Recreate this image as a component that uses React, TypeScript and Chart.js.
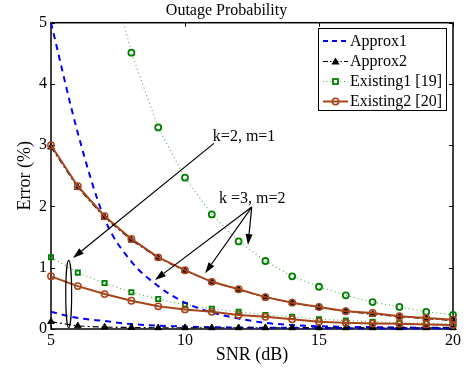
import React, { useEffect, useRef } from 'react';
import { Chart, registerables } from 'chart.js';

Chart.register(...registerables);

// ---------- data ----------
const snr = [5, 6, 7, 8, 9, 10, 11, 12, 13, 14, 15, 16, 17, 18, 19, 20];
const xTickValues = [5, 10, 15, 20];
const yTickValues = [0, 1, 2, 3, 4, 5];

// Approx1 (blue dashed)
const approx1K3 = [5.0, 3.2, 1.8, 1.1, 0.7, 0.43, 0.27, 0.17, 0.1, 0.065, 0.045, 0.035, 0.03, 0.025, 0.02, 0.02];
const approx1K2 = [0.28, 0.18, 0.13, 0.08, 0.055, 0.04, 0.03, 0.025, 0.02, 0.02, 0.015, 0.015, 0.01, 0.01, 0.01, 0.01];
// Approx2 (black triangles, dash-dot)
const approx2K3 = [2.97, 2.31, 1.82, 1.45, 1.16, 0.95, 0.77, 0.64, 0.52, 0.43, 0.35, 0.29, 0.24, 0.2, 0.17, 0.14];
const approx2K2 = [0.12, 0.05, 0.03, 0.025, 0.02, 0.02, 0.02, 0.02, 0.02, 0.02, 0.02, 0.02, 0.02, 0.02, 0.02, 0.02];
// Existing1 [19] (green dotted; circles k=3, squares k=2)
const existing1K3 = [null, null, 6.2, 4.51, 3.29, 2.47, 1.87, 1.43, 1.11, 0.86, 0.69, 0.55, 0.44, 0.36, 0.28, 0.23];
const existing1K2 = [1.17, 0.92, 0.75, 0.6, 0.49, 0.39, 0.33, 0.28, 0.23, 0.2, 0.16, 0.14, 0.12, 0.1, 0.095, 0.08];
// Existing2 [20] (brown solid, circles)
const existing2K3 = [3.0, 2.33, 1.84, 1.47, 1.17, 0.96, 0.77, 0.65, 0.52, 0.43, 0.36, 0.29, 0.26, 0.21, 0.18, 0.15];
const existing2K2 = [0.86, 0.7, 0.57, 0.46, 0.37, 0.32, 0.28, 0.23, 0.2, 0.16, 0.12, 0.1, 0.09, 0.085, 0.075, 0.065];

const legendLabels = ['Approx1', 'Approx2', 'Existing1 [19]', 'Existing2 [20]'];
const titleText = 'Outage Probability';
const xTitle = 'SNR (dB)';
const yTitle = 'Error (%)';
const note1 = 'k=2, m=1';
const note2 = 'k =3, m=2';

// annotation anchors in data coordinates
const note1Pos = { x: 11.04, y: 3.14 };
const note1Arrow = { from: { x: 11.08, y: 3.03 }, to: { x: 5.82, y: 1.16 } };
const ellipseDef = { x: 5.66, y: 0.57, rx: 0.11, ry: 0.55 };
const note2Pos = { x: 11.27, y: 2.13 };
const note2From = { x: 12.49, y: 1.99 };
const note2Tips = [
  { x: 8.88, y: 0.8 },
  { x: 10.75, y: 0.91 },
  { x: 12.35, y: 1.37 },
];

const SERIF = "'Liberation Serif', 'Times New Roman', serif";
const BLUE = '#0000ff';
const GREEN = '#008000';
const GREEN_LINE = '#4fae4f';
const BROWN = '#a8441a';

const pts = (arr: (number | null)[]) => snr.map((x, i) => ({ x, y: arr[i] }));

const CLIP = { left: 10, right: 10, top: 0, bottom: 10 };

function drawMarker(ctx: CanvasRenderingContext2D, kind: string, x: number, y: number) {
  ctx.save();
  ctx.setLineDash([]);
  if (kind === 'triangle') {
    ctx.fillStyle = '#000';
    ctx.beginPath();
    ctx.moveTo(x, y - 4);
    ctx.lineTo(x + 4, y + 3);
    ctx.lineTo(x - 4, y + 3);
    ctx.closePath();
    ctx.fill();
  } else if (kind === 'rect') {
    ctx.strokeStyle = GREEN;
    ctx.lineWidth = 1.8;
    ctx.strokeRect(x - 2.5, y - 2.5, 5, 5);
  } else if (kind === 'circle') {
    ctx.strokeStyle = BROWN;
    ctx.lineWidth = 1.5;
    ctx.beginPath();
    ctx.arc(x, y, 3.2, 0, Math.PI * 2);
    ctx.stroke();
  }
  ctx.restore();
}

function arrow(ctx: CanvasRenderingContext2D, x1: number, y1: number, x2: number, y2: number) {
  const ang = Math.atan2(y2 - y1, x2 - x1);
  const len = 11;
  const hw = 3.5;
  const bx = x2 - len * Math.cos(ang);
  const by = y2 - len * Math.sin(ang);
  ctx.beginPath();
  ctx.moveTo(x1, y1);
  ctx.lineTo(bx, by);
  ctx.stroke();
  ctx.beginPath();
  ctx.moveTo(x2, y2);
  ctx.lineTo(bx + hw * Math.sin(ang), by - hw * Math.cos(ang));
  ctx.lineTo(bx - hw * Math.sin(ang), by + hw * Math.cos(ang));
  ctx.closePath();
  ctx.fill();
}

const framePlugin = {
  id: 'frame',
  beforeDatasetsDraw(chart: any) {
    const { ctx, chartArea: a, scales } = chart;
    ctx.save();
    ctx.strokeStyle = '#000';
    ctx.lineWidth = 1.5;
    ctx.strokeRect(a.left, a.top, a.right - a.left, a.bottom - a.top);
    ctx.lineWidth = 1;
    const tl = 4;
    ctx.beginPath();
    xTickValues.forEach((v) => {
      const px = Math.round(scales.x.getPixelForValue(v)) + 0.5;
      ctx.moveTo(px, a.bottom);
      ctx.lineTo(px, a.bottom - tl);
      ctx.moveTo(px, a.top);
      ctx.lineTo(px, a.top + tl);
    });
    yTickValues.forEach((v) => {
      const py = Math.round(scales.y.getPixelForValue(v)) + 0.5;
      ctx.moveTo(a.left, py);
      ctx.lineTo(a.left + tl, py);
      ctx.moveTo(a.right, py);
      ctx.lineTo(a.right - tl, py);
    });
    ctx.stroke();
    ctx.restore();
  },
  afterDatasetsDraw(chart: any) {
    const { ctx, scales } = chart;
    const X = (v: number) => scales.x.getPixelForValue(v);
    const Y = (v: number) => scales.y.getPixelForValue(v);
    ctx.save();
    ctx.strokeStyle = '#000';
    ctx.fillStyle = '#000';
    ctx.lineWidth = 1.2;
    ctx.setLineDash([]);

    // annotations
    ctx.font = `16px ${SERIF}`;
    ctx.textAlign = 'left';
    ctx.textBaseline = 'middle';
    ctx.fillText(note1, X(note1Pos.x), Y(note1Pos.y));
    ctx.fillText(note2, X(note2Pos.x), Y(note2Pos.y));
    arrow(ctx, X(note1Arrow.from.x), Y(note1Arrow.from.y), X(note1Arrow.to.x), Y(note1Arrow.to.y));
    note2Tips.forEach((t) => arrow(ctx, X(note2From.x), Y(note2From.y), X(t.x), Y(t.y)));
    const cx = X(ellipseDef.x);
    const cy = Y(ellipseDef.y);
    const rx = Math.abs(X(ellipseDef.x + ellipseDef.rx) - cx);
    const ry = Math.abs(Y(ellipseDef.y + ellipseDef.ry) - cy);
    ctx.beginPath();
    ctx.ellipse(cx, cy, rx, ry, 0, 0, Math.PI * 2);
    ctx.stroke();

    // legend
    const bx = 318.5, by = 28.5, bw = 128, bh = 82;
    ctx.fillStyle = '#fff';
    ctx.fillRect(bx, by, bw, bh);
    ctx.strokeStyle = '#000';
    ctx.lineWidth = 1;
    ctx.strokeRect(bx, by, bw, bh);
    const rows = [41, 61.5, 81.5, 101.5];
    const styles = [
      { color: BLUE, dash: [5, 4], width: 2, marker: '' },
      { color: '#000', dash: [5, 2, 1.5, 2], width: 1.2, marker: 'triangle' },
      { color: GREEN_LINE, dash: [1, 2.5], width: 1.2, marker: 'rect' },
      { color: BROWN, dash: [], width: 2, marker: 'circle' },
    ];
    styles.forEach((s, i) => {
      const y = rows[i];
      ctx.save();
      ctx.strokeStyle = s.color;
      ctx.lineWidth = s.width;
      ctx.setLineDash(s.dash);
      ctx.beginPath();
      ctx.moveTo(323, y);
      ctx.lineTo(348, y);
      ctx.stroke();
      ctx.restore();
      if (s.marker) drawMarker(ctx, s.marker, 335.5, y);
      ctx.fillStyle = '#000';
      ctx.font = `16px ${SERIF}`;
      ctx.textAlign = 'left';
      ctx.textBaseline = 'middle';
      ctx.fillText(legendLabels[i], 350, y + 0.5);
    });
    ctx.restore();
  },
};

export default function App() {
  const ref = useRef<HTMLCanvasElement>(null);
  useEffect(() => {
    document.body.style.margin = '0';
    const canvas = ref.current;
    if (!canvas) return;
    const brownCommon = {
      borderColor: BROWN,
      borderWidth: 2,
      pointStyle: 'circle',
      pointRadius: 3.2,
      pointBorderWidth: 1.5,
      pointBorderColor: BROWN,
      pointBackgroundColor: 'rgba(0,0,0,0)',
      tension: 0,
      clip: CLIP,
    };
    const blackCommon = {
      borderColor: '#000',
      borderWidth: 1.2,
      borderDash: [6, 3, 2, 3],
      pointStyle: 'triangle',
      pointRadius: 3.8,
      pointBorderWidth: 1,
      pointBorderColor: '#000',
      pointBackgroundColor: '#000',
      tension: 0,
      clip: CLIP,
    };
    const blueCommon = {
      borderColor: BLUE,
      borderWidth: 2,
      borderDash: [6, 5],
      pointRadius: 0,
      cubicInterpolationMode: 'monotone',
      clip: CLIP,
    };
    const greenCommon = {
      borderColor: GREEN_LINE,
      borderWidth: 1.1,
      borderDash: [1, 3],
      pointBorderColor: GREEN,
      pointBackgroundColor: 'rgba(0,0,0,0)',
      pointBorderWidth: 1.8,
      tension: 0,
      clip: CLIP,
    };
    const chart = new Chart(canvas, {
      type: 'line',
      data: {
        datasets: [
          { label: legendLabels[3], data: pts(existing2K3), ...brownCommon },
          { label: legendLabels[3], data: pts(existing2K2), ...brownCommon },
          { label: legendLabels[1], data: pts(approx2K3), ...blackCommon },
          { label: legendLabels[1], data: pts(approx2K2), ...blackCommon },
          { label: legendLabels[0], data: pts(approx1K3), ...blueCommon },
          { label: legendLabels[0], data: pts(approx1K2), ...blueCommon },
          { label: legendLabels[2], data: pts(existing1K3), ...greenCommon, pointStyle: 'circle', pointRadius: 3 },
          { label: legendLabels[2], data: pts(existing1K2), ...greenCommon, pointStyle: 'rect', pointRadius: 3 },
        ] as any,
      },
      options: {
        animation: false,
        responsive: false,
        devicePixelRatio: 1,
        layout: { padding: { top: 0, right: 13, left: 0, bottom: 0 } },
        plugins: {
          legend: { display: false },
          tooltip: { enabled: false },
          title: {
            display: true,
            text: titleText,
            color: '#000',
            font: { family: SERIF, size: 16, weight: 'normal' },
            padding: { top: 1, bottom: 2.5 },
          },
        },
        scales: {
          x: {
            type: 'linear',
            min: 5,
            max: 20,
            ticks: {
              stepSize: 5,
              padding: 2,
              color: '#000',
              maxRotation: 0,
              autoSkip: false,
              font: { family: SERIF, size: 16 },
            },
            grid: { display: false, drawTicks: false },
            border: { display: false },
            title: {
              display: true,
              text: xTitle,
              color: '#000',
              font: { family: SERIF, size: 18 },
              padding: { top: 0, bottom: 2 },
            },
            afterFit: (s: any) => {
              s.height = 39;
            },
          },
          y: {
            min: 0,
            max: 5,
            ticks: {
              stepSize: 1,
              padding: 4,
              color: '#000',
              font: { family: SERIF, size: 16 },
            },
            grid: { display: false, drawTicks: false },
            border: { display: false },
            title: {
              display: true,
              text: yTitle,
              color: '#000',
              font: { family: SERIF, size: 18 },
              padding: { top: 14, bottom: 0 },
            },
            afterFit: (s: any) => {
              s.width = 51;
            },
          },
        },
      } as any,
      plugins: [framePlugin],
    });
    return () => chart.destroy();
  }, []);
  return (
    <div style={{ width: 466, height: 368 }}>
      <canvas ref={ref} width={466} height={368} style={{ display: 'block' }} />
    </div>
  );
}
